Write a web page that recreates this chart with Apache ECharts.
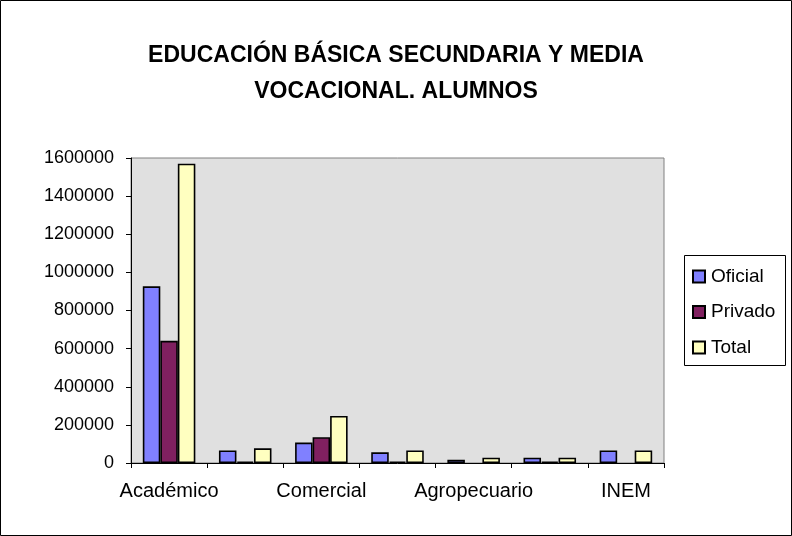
<!DOCTYPE html>
<html><head><meta charset="utf-8">
<script src="https://cdn.jsdelivr.net/npm/echarts@6/dist/echarts.min.js"></script>
<style>html,body{margin:0;padding:0;background:#fff}#c{width:792px;height:536px}</style>
</head><body><div id="c"></div>
<script>
var categories = ['Académico','Industrial','Comercial','Pedagógico','Agropecuario','Promoción social','INEM'];
var oficial = [927000, 66000, 107000, 56000, 17000, 28000, 66000];
var privado = [641000, 8000, 135000, 8000, null, 7000, null];
var total = [1570000, 77000, 247000, 66000, 28000, 28000, 66000];
var yTicks = {min: 0, max: 1600000, interval: 200000};

var FONT = 'Liberation Sans, Arial, sans-serif';
var chart = echarts.init(document.getElementById('c'), null, {renderer: 'canvas'});
function bar(name, data, color) {
  return {name: name, type: 'bar', data: data, barGap: '0%', barCategoryGap: '31%',
    itemStyle: {color: color, borderColor: '#000', borderWidth: 1.6}};
}
chart.setOption({
  animation: false,
  textStyle: {fontFamily: FONT},
  title: {text: 'EDUCACIÓN BÁSICA SECUNDARIA Y MEDIA\nVOCACIONAL. ALUMNOS', left: 'center', top: 33,
    textStyle: {fontFamily: FONT, fontWeight: 'bold', fontSize: 23, lineHeight: 36, color: '#000'}},
  graphic: [
    {type: 'rect', shape: {x: 0.5, y: 0.5, width: 791, height: 535}, style: {fill: 'none', stroke: '#000', lineWidth: 1}, silent: true},
    {type: 'rect', shape: {x: 684.5, y: 255.5, width: 101, height: 110}, style: {fill: '#fff', stroke: '#000', lineWidth: 1}, silent: true, z: -1}
  ],
  legend: {orient: 'vertical', left: 684, top: 256, padding: [11, 4, 10, 8], itemGap: 16.5,
    itemWidth: 12, itemHeight: 12, icon: 'rect',
    textStyle: {fontFamily: FONT, fontSize: 19, color: '#000', padding: [0, 0, 0, 1]},
    data: ['Oficial', 'Privado', 'Total']},
  grid: {left: 131, top: 158, right: 128, bottom: 73, show: true, backgroundColor: '#E0E0E0', borderColor: '#808080', borderWidth: 1},
  xAxis: {type: 'category', data: categories, boundaryGap: true,
    axisLine: {lineStyle: {color: '#000', width: 1}},
    axisTick: {show: true, alignWithLabel: false, interval: 0, length: 5, lineStyle: {color: '#000'}},
    axisLabel: {interval: 1, fontFamily: FONT, fontSize: 20, color: '#000', margin: 18}},
  yAxis: {type: 'value', min: yTicks.min, max: yTicks.max, interval: yTicks.interval,
    axisLine: {show: true, lineStyle: {color: '#000', width: 1}},
    axisTick: {show: true, length: 5, lineStyle: {color: '#000'}},
    splitLine: {show: false},
    axisLabel: {fontFamily: FONT, fontSize: 18, color: '#000', margin: 17, formatter: function (v) { return String(v); }}},
  series: [bar('Oficial', oficial, '#8080FF'), bar('Privado', privado, '#802060'), bar('Total', total, '#FFFFC0')]
});
</script></body></html>
